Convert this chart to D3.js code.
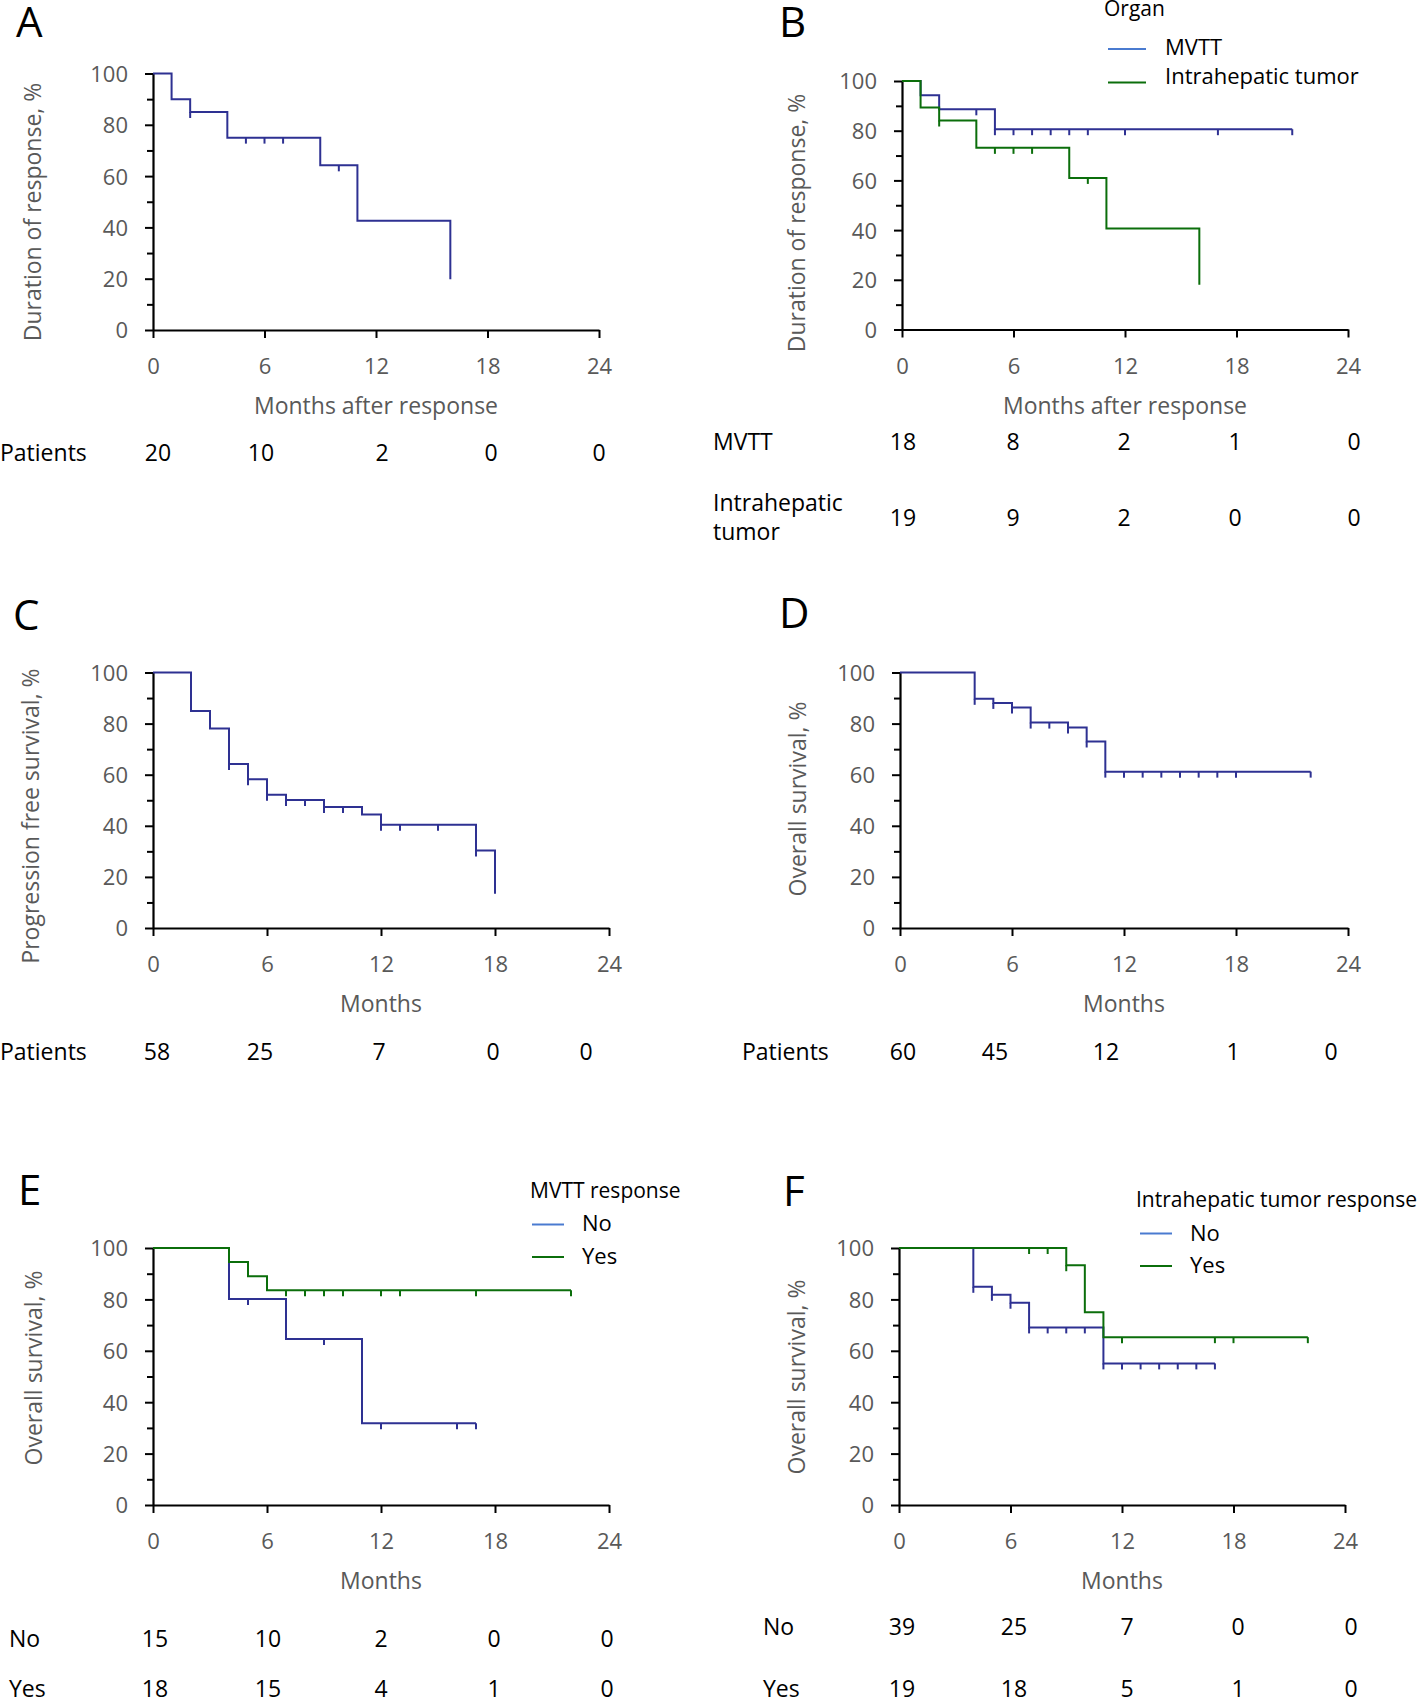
<!DOCTYPE html>
<html><head><meta charset="utf-8">
<script src="https://cdn.jsdelivr.net/npm/d3@7"></script>
<style>
body{margin:0;background:#fff}
svg{display:block}
text{font-family:"Open Sans","Noto Sans",sans-serif}
</style>
</head><body>
<svg id="chart" width="1418" height="1698"></svg>
<script>
// ---------- axis ticks ----------
const xTickValues = [0, 6, 12, 18, 24];
const yMajorTicks = [0, 20, 40, 60, 80, 100];
const yMinorTicks = [10, 30, 50, 70, 90];

// ---------- Panel A : duration of response ----------
const aTimes = [0, 1, 2, 4, 9, 11, 16];
const aSurv = [100, 90, 85, 75, 64.2, 42.6, 19.8];
const aCensor = [2, 5, 6, 7, 10];
const aEnd = 16;
const aRisk = [20, 10, 2, 0, 0];

// ---------- Panel B : by organ ----------
const bMvttTimes = [0, 1, 2, 5];
const bMvttSurv = [100, 94.3, 88.6, 80.6];
const bMvttCensor = [4, 5, 6, 7, 8, 9, 10, 12, 17, 21];
const bMvttEnd = 21;
const bIntraTimes = [0, 1, 2, 4, 9, 11, 16];
const bIntraSurv = [100, 89.3, 84.1, 73.1, 61, 40.6, 18];
const bIntraCensor = [2, 5, 6, 7, 10];
const bIntraEnd = 16;
const bRiskMvtt = [18, 8, 2, 1, 0];
const bRiskIntra = [19, 9, 2, 0, 0];

// ---------- Panel C : progression free survival ----------
const cTimes = [0, 2, 3, 4, 5, 6, 7, 9, 11, 12, 17, 18];
const cSurv = [100, 84.9, 78.1, 64.2, 58.2, 52.2, 50.1, 47.4, 44.4, 40.4, 30.3, 13.4];
const cCensor = [4, 5, 6, 7, 8, 9, 10, 12, 13, 15, 17];
const cEnd = 18;
const cRisk = [58, 25, 7, 0, 0];

// ---------- Panel D : overall survival ----------
const dTimes = [0, 4, 5, 6, 7, 9, 10, 11];
const dSurv = [100, 89.7, 88.1, 86.3, 80.4, 78.5, 73, 61.2];
const dCensor = [4, 5, 6, 7, 8, 9, 10, 11, 12, 13, 14, 15, 16, 17, 18, 22];
const dEnd = 22;
const dRisk = [60, 45, 12, 1, 0];

// ---------- Panel E : OS by MVTT response ----------
const eNoTimes = [0, 4, 7, 11];
const eNoSurv = [100, 80.2, 64.6, 31.8];
const eNoCensor = [5, 9, 12, 16, 17];
const eNoEnd = 17;
const eYesTimes = [0, 4, 5, 6];
const eYesSurv = [100, 94.6, 89, 83.6];
const eYesCensor = [7, 8, 9, 10, 12, 13, 17, 22];
const eYesEnd = 22;
const eRiskNo = [15, 10, 2, 0, 0];
const eRiskYes = [18, 15, 4, 1, 0];

// ---------- Panel F : OS by intrahepatic tumor response ----------
const fNoTimes = [0, 4, 5, 6, 7, 11];
const fNoSurv = [100, 84.9, 81.8, 78.7, 69.1, 55.1];
const fNoCensor = [4, 5, 6, 7, 8, 9, 10, 11, 12, 13, 14, 15, 16, 17];
const fNoEnd = 17;
const fYesTimes = [0, 9, 10, 11];
const fYesSurv = [100, 93.3, 75, 65.3];
const fYesCensor = [7, 8, 9, 12, 17, 18, 22];
const fYesEnd = 22;
const fRiskNo = [39, 25, 7, 0, 0];
const fRiskYes = [19, 18, 5, 1, 0];

// ---------- styles ----------
const BLUE = "#2e3192", GREEN = "#0b6e0b", LEG_BLUE = "#4a7bd0", GRAY = "#595959";
const svg = d3.select("#chart");

function drawPanel(p) {
  const x = d3.scaleLinear().domain([0, 24]).range([p.x0, p.x1]);
  const y = d3.scaleLinear().domain([0, 100]).range([p.yb, p.yt]);
  const g = svg.append("g");

  // x axis
  const xa = g.append("g").attr("transform", `translate(0,${p.yb})`)
    .call(d3.axisBottom(x).tickValues(xTickValues).tickSize(8).tickSizeOuter(0));
  xa.select(".domain").attr("stroke", "#000").attr("stroke-width", 2.2);
  xa.selectAll(".tick line").attr("stroke", "#000").attr("stroke-width", 2);
  xa.selectAll(".tick text").attr("y", 44).attr("dy", null)
    .attr("font-size", 22).attr("fill", GRAY).attr("font-family", null);

  // y axis major
  const ya = g.append("g").attr("transform", `translate(${p.x0},0)`)
    .call(d3.axisLeft(y).tickValues(yMajorTicks).tickSize(8).tickSizeOuter(0));
  ya.select(".domain").attr("stroke", "#000").attr("stroke-width", 2.2);
  ya.selectAll(".tick line").attr("stroke", "#000").attr("stroke-width", 2);
  ya.selectAll(".tick text").attr("x", -25).attr("dy", "0.36em")
    .attr("font-size", 22).attr("fill", GRAY).attr("font-family", null);
  // y axis minor
  const ym = g.append("g").attr("transform", `translate(${p.x0},0)`)
    .call(d3.axisLeft(y).tickValues(yMinorTicks).tickSize(6).tickFormat(""));
  ym.select(".domain").remove();
  ym.selectAll(".tick line").attr("stroke", "#000").attr("stroke-width", 2);
  g.selectAll(".tick text").attr("font-family", null);

  // axis titles
  g.append("text").attr("x", (p.x0 + p.x1) / 2).attr("y", p.yb + 84)
    .attr("text-anchor", "middle").attr("font-size", 23).attr("fill", GRAY).text(p.xTitle);
  g.append("text").attr("transform", `translate(${p.ytx},${p.yty}) rotate(-90)`)
    .attr("text-anchor", "middle").attr("dominant-baseline", "central")
    .attr("font-size", 23).attr("fill", GRAY).text(p.yTitle);

  // panel letter
  g.append("text").attr("x", p.lx).attr("y", p.ly).attr("font-size", 42)
    .attr("fill", "#000").text(p.letter);

  // survival curves
  const line = d3.line().x(d => x(d[0])).y(d => y(d[1])).curve(d3.curveStepAfter);
  p.series.forEach(s => {
    const pts = s.times.map((t, i) => [t, s.surv[i]]);
    pts.push([s.end, s.surv[s.surv.length - 1]]);
    g.append("path").attr("d", line(pts)).attr("fill", "none")
      .attr("stroke", s.color).attr("stroke-width", 2);
    const valueAt = t => { let v = s.surv[0]; s.times.forEach((tt, i) => { if (tt <= t) v = s.surv[i]; }); return v; };
    g.selectAll(null).data(s.censor).enter().append("line")
      .attr("x1", d => x(d)).attr("x2", d => x(d))
      .attr("y1", d => y(valueAt(d))).attr("y2", d => y(valueAt(d)) + 6)
      .attr("stroke", s.color).attr("stroke-width", 2);
  });

  // legend
  if (p.legend) {
    const L = p.legend;
    g.append("text").attr("x", L.tx).attr("y", L.ty).attr("font-size", 21).attr("fill", "#000").text(L.title);
    L.items.forEach((it, i) => {
      g.append("line").attr("x1", L.lx0).attr("x2", L.lx1).attr("y1", L.ly[i]).attr("y2", L.ly[i])
        .attr("stroke", it.color).attr("stroke-width", 2);
      g.append("text").attr("x", L.textX).attr("y", L.textY[i]).attr("font-size", 22)
        .attr("fill", "#000").text(it.label);
    });
  }

  // number at risk
  p.risk.forEach(r => {
    r.labels.forEach(lb => {
      g.append("text").attr("x", r.lx).attr("y", lb.y).attr("font-size", 23).attr("fill", "#000").text(lb.text);
    });
    g.selectAll(null).data(r.values).enter().append("text")
      .attr("x", (d, i) => r.xs[i]).attr("y", r.y).attr("text-anchor", "middle")
      .attr("font-size", 23).attr("fill", "#000").text(d => d);
  });
}

drawPanel({
  letter: "A", lx: 16, ly: 37,
  x0: 153, x1: 599, yt: 73.5, yb: 330,
  xTitle: "Months after response", yTitle: "Duration of response, %", ytx: 32, yty: 212,
  series: [{ times: aTimes, surv: aSurv, censor: aCensor, end: aEnd, color: BLUE }],
  risk: [{ lx: 0, labels: [{ text: "Patients", y: 461 }], values: aRisk, y: 461, xs: [158, 261, 382, 491, 599] }]
});

drawPanel({
  letter: "B", lx: 779, ly: 37,
  x0: 902, x1: 1348, yt: 81, yb: 329.5,
  xTitle: "Months after response", yTitle: "Duration of response, %", ytx: 796, yty: 223,
  series: [
    { times: bMvttTimes, surv: bMvttSurv, censor: bMvttCensor, end: bMvttEnd, color: BLUE },
    { times: bIntraTimes, surv: bIntraSurv, censor: bIntraCensor, end: bIntraEnd, color: GREEN }
  ],
  legend: { title: "Organ", tx: 1104, ty: 16, lx0: 1108, lx1: 1146, ly: [49, 82.5], textX: 1165, textY: [55, 84],
    items: [{ label: "MVTT", color: LEG_BLUE }, { label: "Intrahepatic tumor", color: GREEN }] },
  risk: [
    { lx: 713, labels: [{ text: "MVTT", y: 450 }], values: bRiskMvtt, y: 450, xs: [903, 1013, 1124, 1235, 1354] },
    { lx: 713, labels: [{ text: "Intrahepatic", y: 511 }, { text: "tumor", y: 540 }], values: bRiskIntra, y: 526, xs: [903, 1013, 1124, 1235, 1354] }
  ]
});

drawPanel({
  letter: "C", lx: 13, ly: 630,
  x0: 153, x1: 609, yt: 672.5, yb: 928,
  xTitle: "Months", yTitle: "Progression free survival, %", ytx: 30, yty: 816,
  series: [{ times: cTimes, surv: cSurv, censor: cCensor, end: cEnd, color: BLUE }],
  risk: [{ lx: 0, labels: [{ text: "Patients", y: 1060 }], values: cRisk, y: 1060, xs: [157, 260, 379, 493, 586] }]
});

drawPanel({
  letter: "D", lx: 779, ly: 628,
  x0: 900, x1: 1348, yt: 672.5, yb: 928,
  xTitle: "Months", yTitle: "Overall survival, %", ytx: 797, yty: 799,
  series: [{ times: dTimes, surv: dSurv, censor: dCensor, end: dEnd, color: BLUE }],
  risk: [{ lx: 742, labels: [{ text: "Patients", y: 1060 }], values: dRisk, y: 1060, xs: [903, 995, 1106, 1233, 1331] }]
});

drawPanel({
  letter: "E", lx: 18, ly: 1205,
  x0: 153, x1: 609, yt: 1248, yb: 1505,
  xTitle: "Months", yTitle: "Overall survival, %", ytx: 33, yty: 1368,
  series: [
    { times: eNoTimes, surv: eNoSurv, censor: eNoCensor, end: eNoEnd, color: BLUE },
    { times: eYesTimes, surv: eYesSurv, censor: eYesCensor, end: eYesEnd, color: GREEN }
  ],
  legend: { title: "MVTT response", tx: 530, ty: 1198, lx0: 532, lx1: 564, ly: [1224.5, 1257], textX: 582, textY: [1231, 1264],
    items: [{ label: "No", color: LEG_BLUE }, { label: "Yes", color: GREEN }] },
  risk: [
    { lx: 9, labels: [{ text: "No", y: 1647 }], values: eRiskNo, y: 1647, xs: [155, 268, 381, 494, 607] },
    { lx: 9, labels: [{ text: "Yes", y: 1697 }], values: eRiskYes, y: 1697, xs: [155, 268, 381, 494, 607] }
  ]
});

drawPanel({
  letter: "F", lx: 783, ly: 1206,
  x0: 899, x1: 1345, yt: 1248, yb: 1505,
  xTitle: "Months", yTitle: "Overall survival, %", ytx: 796, yty: 1377,
  series: [
    { times: fNoTimes, surv: fNoSurv, censor: fNoCensor, end: fNoEnd, color: BLUE },
    { times: fYesTimes, surv: fYesSurv, censor: fYesCensor, end: fYesEnd, color: GREEN }
  ],
  legend: { title: "Intrahepatic tumor response", tx: 1136, ty: 1207, lx0: 1140, lx1: 1172, ly: [1233.5, 1266], textX: 1190, textY: [1241, 1273],
    items: [{ label: "No", color: LEG_BLUE }, { label: "Yes", color: GREEN }] },
  risk: [
    { lx: 763, labels: [{ text: "No", y: 1635 }], values: fRiskNo, y: 1635, xs: [902, 1014, 1127, 1238, 1351] },
    { lx: 763, labels: [{ text: "Yes", y: 1697 }], values: fRiskYes, y: 1697, xs: [902, 1014, 1127, 1238, 1351] }
  ]
});
</script>
</body></html>
